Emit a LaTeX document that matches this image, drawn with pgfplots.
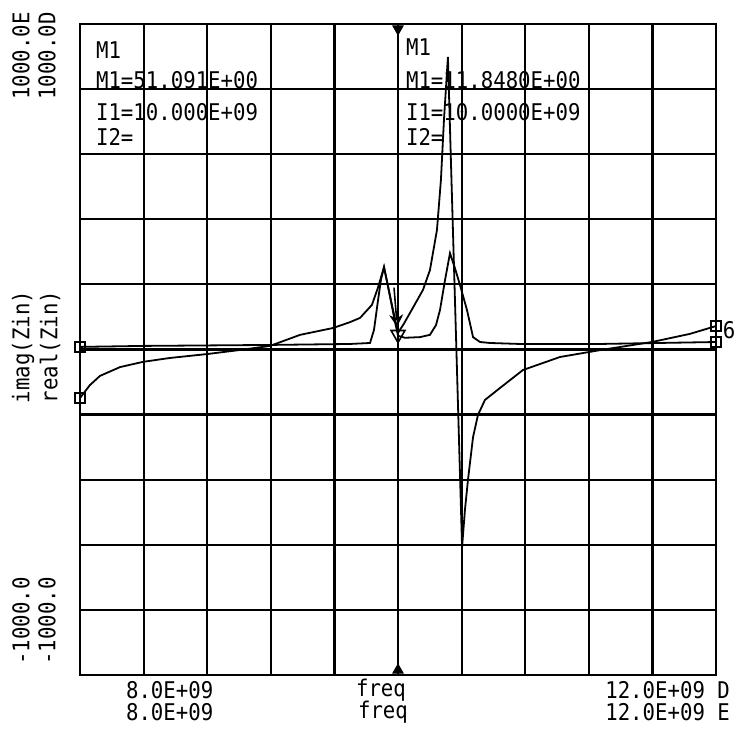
\documentclass[border=0pt]{standalone}
\usepackage{fontspec}
\usepackage{pgfplots}
\pgfplotsset{compat=1.18}
\usetikzlibrary{arrows.meta}
\setmainfont{DejaVu Sans Mono}[FakeStretch=0.9]
\newcommand{\pf}{\fontsize{11.5pt}{13pt}\selectfont}

\pgfplotstableread{
x y
8.000 -149
8.063 -109
8.126 -81
8.252 -54
8.396 -38
8.566 -26
8.799 -14
9.006 -1.5
9.195 11
9.384 45
9.591 66
9.698 84
9.761 97
9.836 137
9.874 190
9.912 253
9.956 150
10.000 51
10.038 80
10.075 112
10.119 150
10.157 183
10.201 244
10.245 367
10.270 521
10.289 705
10.314 899
10.340 459
10.371 -63
10.403 -607
10.421 -493
10.440 -401
10.472 -269
10.503 -201
10.547 -155
10.642 -118
10.786 -63
11.019 -23
11.270 -2
11.597 23
11.836 48
12.000 72
}\imagdata

\pgfplotstableread{
x y
8.000 8
8.396 11
9.195 14
9.698 17
9.824 20
9.849 60
9.874 150
9.893 215
9.912 253
9.943 180
9.975 100
10.000 42
10.044 36
10.138 38
10.201 45
10.239 75
10.264 121
10.296 214
10.327 296
10.358 250
10.390 198
10.434 121
10.472 38
10.516 23
10.579 20
10.767 17
11.270 17
12.000 23
}\realdata

\begin{document}
\begin{tikzpicture}
\useasboundingbox (0pt,0pt) rectangle (369.5pt,370pt);
\begin{axis}[
  at={(40pt,32.5pt)}, anchor=south west,
  scale only axis, width=318pt, height=325.5pt,
  xmin=8, xmax=12, ymin=-1000, ymax=1000,
  xtick={8.4,8.8,9.2,9.6,10,10.4,10.8,11.2,11.6},
  ytick={-800,-600,-400,-200,0,200,400,600,800},
  xticklabels={}, yticklabels={},
  major tick length=0pt,
  grid=major,
  major grid style={black, line width=1.1pt},
  axis line style={black, line width=1.2pt},
  clip=false,
]
\addplot[black, line width=0.9pt, mark=none] table[x=x,y=y] {\imagdata};
\addplot[black, line width=0.9pt, mark=none] table[x=x,y=y] {\realdata};
% end markers
\addplot[black, only marks, mark=square, mark size=2.5pt, line width=0.8pt] coordinates {(8,-149) (8,8) (12,72) (12,23)};
% marker M1 at 10 GHz
\addplot[black, only marks, mark=triangle, mark options={rotate=180}, mark size=4pt, line width=0.8pt] coordinates {(10,46)};
\addplot[black, line width=0.8pt, -{Stealth[open,length=6pt,width=7pt]}] coordinates {(9.975,190) (9.995,70)};
% top and bottom markers
\addplot[black, only marks, mark=triangle*, mark options={rotate=180}, mark size=3pt] coordinates {(10,985)};
\addplot[black, only marks, mark=triangle*, mark size=3pt] coordinates {(10,-985)};
\end{axis}
\end{tikzpicture}%
\llap{\begin{tikzpicture}[x=0.5pt,y=0.5pt]
\useasboundingbox (0,0) rectangle (739,740);
\pf
% left rotated labels
\node[rotate=90] at (21,684) {1000.0E};
\node[rotate=90] at (47,684) {1000.0D};
\node[rotate=90] at (23,393) {imag(Zin)};
\node[rotate=90] at (50,393) {real(Zin)};
\node[rotate=90] at (21,119) {-1000.0};
\node[rotate=90] at (47,119) {-1000.0};
% bottom labels
\node[anchor=west] at (118,50) {8.0E+09};
\node[anchor=west] at (118,28) {8.0E+09};
\node[anchor=west] at (348,50) {freq};
\node[anchor=west] at (350,28) {freq};
\node[anchor=east] at (738,50) {12.0E+09 D};
\node[anchor=east] at (738,28) {12.0E+09 E};
% marker blocks
\node[anchor=west] at (88,690) {M1};
\node[anchor=west] at (88,660) {M1=51.091E+00};
\node[anchor=west] at (88,628) {I1=10.000E+09};
\node[anchor=west] at (88,603) {I2=};
\node[anchor=west] at (398,693) {M1};
\node[anchor=west] at (398,660) {M1=11.8480E+00};
\node[anchor=west] at (398,628) {I1=10.0000E+09};
\node[anchor=west] at (398,603) {I2=};
\node at (729,410) {6};
\end{tikzpicture}}
\end{document}
